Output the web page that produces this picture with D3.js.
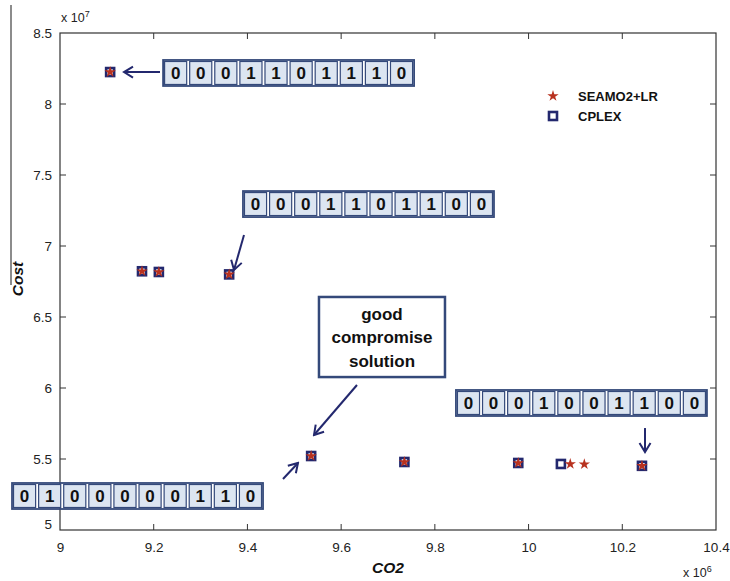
<!DOCTYPE html>
<html>
<head>
<meta charset="utf-8">
<script src="https://cdn.jsdelivr.net/npm/d3@7/dist/d3.min.js"></script>
<style>
  body { margin: 0; background: #fff; font-family: "Liberation Sans", Arial, sans-serif; }
</style>
</head>
<body>
<div id="chart"></div>
<script>
// Tick values (x in 1e6, y in 1e7)
const xTicks = [9, 9.2, 9.4, 9.6, 9.8, 10, 10.2, 10.4];
const yTicks = [5, 5.5, 6, 6.5, 7, 7.5, 8, 8.5];
const xTickLabels = ['9', '9.2', '9.4', '9.6', '9.8', '10', '10.2', '10.4'];
const yTickLabels = ['5', '5.5', '6', '6.5', '7', '7.5', '8', '8.5'];

// SEAMO2+LR solutions
const seamoX = [9.107, 9.175, 9.211, 9.361, 9.536, 9.735, 9.978, 10.089, 10.119, 10.242];
const seamoY = [8.225, 6.822, 6.817, 6.800, 5.521, 5.479, 5.472, 5.465, 5.463, 5.452];

// CPLEX solutions
const cplexX = [9.107, 9.175, 9.211, 9.361, 9.536, 9.735, 9.978, 10.069, 10.242];
const cplexY = [8.225, 6.822, 6.817, 6.800, 5.521, 5.479, 5.472, 5.465, 5.452];

// Binary solution strings shown in the call-out boxes
const bitStrings = ['0001101110', '0001101100', '0100000110', '0001001100'];
// Box top-left corners, in data units
const boxX = [9.220, 9.3905, 8.8976, 9.845];
const boxY = [8.310, 7.387, 5.331, 5.986];

// Arrows in data units: [x1, y1, x2, y2]
const arrows = [
    [9.2134, 8.225, 9.1366, 8.225],
    [9.3927, 7.077, 9.3713, 6.831],
    [9.4759, 5.359, 9.5079, 5.472],
    [10.2485, 5.718, 10.2485, 5.549],
    [9.6338, 6.021, 9.5421, 5.669]
];

const width = 730;
const height = 581;
const navy = '#23286e';
const red = '#b8321f';
const boxBlue = '#34497a';

const svg = d3.select('#chart')
    .append('svg')
    .attr('width', width)
    .attr('height', height);

const x = d3.scaleLinear().domain([9, 10.4]).range([60, 716]);
const y = d3.scaleLinear().domain([5, 8.5]).range([530, 33]);

// Stray scan line at the far left
svg.append('line')
    .attr('x1', 11).attr('x2', 11)
    .attr('y1', 5).attr('y2', 285)
    .attr('stroke', '#666')
    .attr('stroke-width', 1.5);

// Axes box
svg.append('rect')
    .attr('x', x(9))
    .attr('y', y(8.5))
    .attr('width', x(10.4) - x(9))
    .attr('height', y(5) - y(8.5))
    .attr('fill', 'none')
    .attr('stroke', '#333')
    .attr('stroke-width', 1.2);

const tickLen = 6;

// Inward ticks, bottom/top
const xAxisBottom = d3.axisBottom(x).tickValues(xTicks).tickSize(0).tickFormat((d, i) => xTickLabels[i]).tickPadding(12);
const gx = svg.append('g').attr('transform', `translate(0,${y(5)})`).call(xAxisBottom);
gx.select('.domain').remove();
gx.selectAll('text').attr('font-size', 13.5).attr('fill', '#222').attr('font-family', '"Liberation Sans", Arial, sans-serif');

xTicks.slice(1, -1).forEach(t => {
    svg.append('line').attr('x1', x(t)).attr('x2', x(t)).attr('y1', y(5)).attr('y2', y(5) - tickLen).attr('stroke', '#333');
    svg.append('line').attr('x1', x(t)).attr('x2', x(t)).attr('y1', y(8.5)).attr('y2', y(8.5) + tickLen).attr('stroke', '#333');
});

const yAxisLeft = d3.axisLeft(y).tickValues(yTicks).tickSize(0).tickFormat((d, i) => yTickLabels[i]).tickPadding(8);
const gy = svg.append('g').attr('transform', `translate(${x(9)},0)`).call(yAxisLeft);
gy.select('.domain').remove();
gy.selectAll('text').attr('font-size', 13.5).attr('fill', '#222').attr('font-family', '"Liberation Sans", Arial, sans-serif');
gy.selectAll('.tick').filter(d => d === 5).select('text').attr('dy', '-0.1em');

yTicks.slice(1, -1).forEach(t => {
    svg.append('line').attr('x1', x(9)).attr('x2', x(9) + tickLen).attr('y1', y(t)).attr('y2', y(t)).attr('stroke', '#333');
    svg.append('line').attr('x1', x(10.4)).attr('x2', x(10.4) - tickLen).attr('y1', y(t)).attr('y2', y(t)).attr('stroke', '#333');
});

// Exponent labels
const exp7 = svg.append('text').attr('x', x(9) + 1).attr('y', 22).attr('font-size', 12.5).attr('fill', '#222');
exp7.append('tspan').text('x 10');
exp7.append('tspan').attr('dy', -5).attr('font-size', 9).text('7');

const exp6 = svg.append('text').attr('x', 683).attr('y', 577).attr('font-size', 12.5).attr('fill', '#222');
exp6.append('tspan').text('x 10');
exp6.append('tspan').attr('dy', -5).attr('font-size', 9).text('6');

// Axis titles
svg.append('text')
    .attr('x', (x(9) + x(10.4)) / 2)
    .attr('y', 573)
    .attr('text-anchor', 'middle')
    .attr('font-size', 15.5)
    .attr('font-weight', 'bold')
    .attr('font-style', 'italic')
    .attr('fill', '#111')
    .text('CO2');

svg.append('text')
    .attr('transform', 'translate(23,279) rotate(-90)')
    .attr('text-anchor', 'middle')
    .attr('font-size', 15.5)
    .attr('font-weight', 'bold')
    .attr('font-style', 'italic')
    .attr('fill', '#111')
    .text('Cost');

// CPLEX markers: hollow squares
const sq = 8;
svg.selectAll('.cplex')
    .data(d3.zip(cplexX, cplexY))
    .enter()
    .append('rect')
    .attr('class', 'cplex')
    .attr('x', d => x(d[0]) - sq / 2)
    .attr('y', d => y(d[1]) - sq / 2)
    .attr('width', sq)
    .attr('height', sq)
    .attr('fill', '#fff')
    .attr('stroke', navy)
    .attr('stroke-width', 2.6);

// SEAMO2+LR markers: red stars
const star = d3.symbol().type(d3.symbolStar).size(40);
svg.selectAll('.seamo')
    .data(d3.zip(seamoX, seamoY))
    .enter()
    .append('path')
    .attr('class', 'seamo')
    .attr('d', star)
    .attr('transform', d => `translate(${x(d[0])},${y(d[1])})`)
    .attr('fill', red);

// Legend
svg.append('path')
    .attr('d', star)
    .attr('transform', 'translate(553,96)')
    .attr('fill', red);
svg.append('rect')
    .attr('x', 553 - sq / 2).attr('y', 116 - sq / 2)
    .attr('width', sq).attr('height', sq)
    .attr('fill', '#fff')
    .attr('stroke', navy)
    .attr('stroke-width', 2.6);
svg.append('text').attr('x', 578).attr('y', 101).attr('font-size', 13).attr('font-weight', 'bold').attr('fill', '#111').text('SEAMO2+LR');
svg.append('text').attr('x', 578).attr('y', 121).attr('font-size', 13).attr('font-weight', 'bold').attr('fill', '#111').text('CPLEX');

// Bit-string call-out boxes
const cellW = 25.1;
const cellH = 26;
bitStrings.forEach((bits, b) => {
    const g = svg.append('g').attr('transform', `translate(${x(boxX[b])},${y(boxY[b])})`);
    bits.split('').forEach((bit, i) => {
        g.append('rect')
            .attr('x', i * cellW + 1.5)
            .attr('y', 1.5)
            .attr('width', cellW - 3)
            .attr('height', cellH - 3)
            .attr('fill', '#dce5f1')
            .attr('stroke', boxBlue)
            .attr('stroke-width', 1.2);
        g.append('text')
            .attr('x', i * cellW + cellW / 2)
            .attr('y', cellH / 2 + 6)
            .attr('text-anchor', 'middle')
            .attr('font-size', 17)
            .attr('font-weight', 'bold')
            .attr('fill', '#111')
            .text(bit);
    });
    g.append('rect')
        .attr('width', cellW * bits.length)
        .attr('height', cellH)
        .attr('fill', 'none')
        .attr('stroke', boxBlue)
        .attr('stroke-width', 1.8);
});

// "good compromise solution" box
const gcX0 = 9.5527, gcY0 = 6.641, gcX1 = 9.8216, gcY1 = 6.077;
svg.append('rect')
    .attr('x', x(gcX0))
    .attr('y', y(gcY0))
    .attr('width', x(gcX1) - x(gcX0))
    .attr('height', y(gcY1) - y(gcY0))
    .attr('fill', '#fff')
    .attr('stroke', boxBlue)
    .attr('stroke-width', 2.5);
['good', 'compromise', 'solution'].forEach((line, i) => {
    svg.append('text')
        .attr('x', (x(gcX0) + x(gcX1)) / 2)
        .attr('y', y(gcY0) + 23 + i * 23.5)
        .attr('text-anchor', 'middle')
        .attr('font-size', 17)
        .attr('font-weight', 'bold')
        .attr('fill', '#111')
        .text(line);
});

// Arrows
svg.append('defs').append('marker')
    .attr('id', 'head')
    .attr('markerUnits', 'userSpaceOnUse')
    .attr('viewBox', '-12 -8 14 16')
    .attr('markerWidth', 14)
    .attr('markerHeight', 16)
    .attr('refX', 0)
    .attr('refY', 0)
    .attr('orient', 'auto')
    .append('path')
    .attr('d', 'M-9,-5.5 L0,0 L-9,5.5')
    .attr('fill', 'none')
    .attr('stroke', navy)
    .attr('stroke-width', 2);

svg.selectAll('.arrow')
    .data(arrows)
    .enter()
    .append('line')
    .attr('class', 'arrow')
    .attr('x1', d => x(d[0]))
    .attr('y1', d => y(d[1]))
    .attr('x2', d => x(d[2]))
    .attr('y2', d => y(d[3]))
    .attr('stroke', navy)
    .attr('stroke-width', 2)
    .attr('marker-end', 'url(#head)');
</script>
</body>
</html>
